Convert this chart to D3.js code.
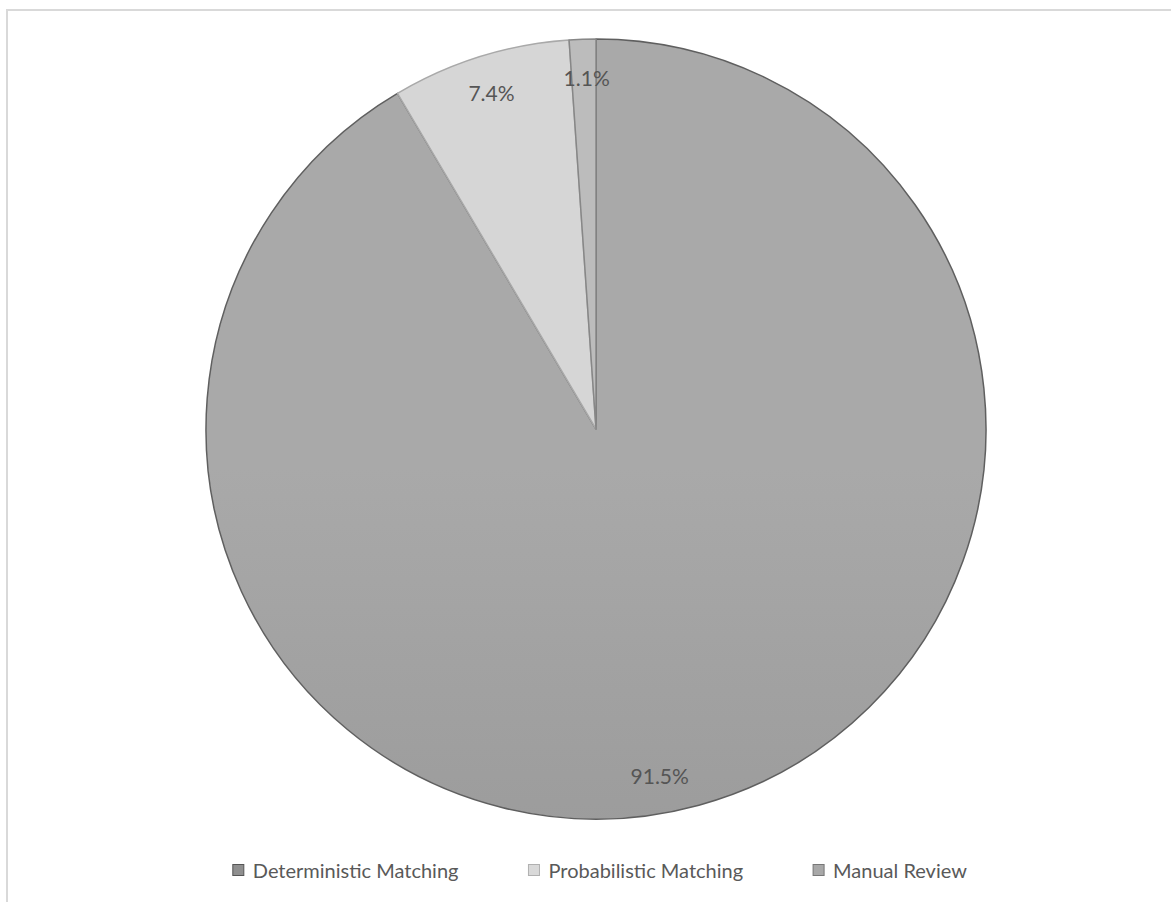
<!DOCTYPE html>
<html><head><meta charset="utf-8">
<script src="https://cdn.jsdelivr.net/npm/d3@7"></script>
<style>html,body{margin:0;padding:0;background:#fff;}</style>
</head><body>
<script>
const categories = ["Deterministic Matching", "Probabilistic Matching", "Manual Review"];
const values = [91.5, 7.4, 1.1];
const labels = ["91.5%", "7.4%", "1.1%"];

const W = 1171, H = 902;
const cx = 596, cy = 429, R = 390, labelR = 352;
const fills = ["url(#detGrad)", "#d6d6d6", "#bcbcbc"];
const strokes = ["#5f5f5f", "#a9a9a9", "#878787"];
const legendFills = ["#8f8f8f", "#d9d9d9", "#a8a8a8"];
const legendStrokes = ["#555", "#b0b0b0", "#777"];
const labelAngleShift = [0.085, 0, 0.008];
const font = "Lato, 'Open Sans', sans-serif";

const svg = d3.select("body").append("svg").attr("width", W).attr("height", H);
const defs = svg.append("defs");
const g1 = defs.append("linearGradient").attr("id", "detGrad")
  .attr("gradientUnits", "userSpaceOnUse").attr("x1", 0).attr("x2", 0)
  .attr("y1", cy - R).attr("y2", cy + R);
g1.append("stop").attr("offset", "0%").attr("stop-color", "#a9a9a9");
g1.append("stop").attr("offset", "100%").attr("stop-color", "#8d8d8d");

// chart frame
svg.append("rect").attr("x", 7).attr("y", 10).attr("width", W).attr("height", H)
  .attr("fill", "none").attr("stroke", "#d9d9d9").attr("stroke-width", 2);

const pie = d3.pie().sort(null).value(d => d)(values);
const arc = d3.arc().innerRadius(0).outerRadius(R);
const g = svg.append("g").attr("transform", `translate(${cx},${cy})`);
g.selectAll("path.slice").data(pie).enter().append("path")
  .attr("class", "slice")
  .attr("d", arc)
  .attr("fill", (d, i) => fills[i])
  .attr("stroke", (d, i) => strokes[i])
  .attr("stroke-width", 1.5)
  .attr("stroke-linejoin", "round");

g.selectAll("text.lbl").data(pie).enter().append("text")
  .attr("class", "lbl")
  .attr("x", (d, i) => labelR * Math.sin((d.startAngle + d.endAngle) / 2 + labelAngleShift[i]))
  .attr("y", (d, i) => -labelR * Math.cos((d.startAngle + d.endAngle) / 2 + labelAngleShift[i]))
  .attr("text-anchor", "middle").attr("dominant-baseline", "central")
  .attr("font-family", font).attr("font-size", 21).attr("fill", "#555555")
  .text((d, i) => labels[i]);

// legend
const legend = svg.append("g").attr("transform", "translate(0,870)");
const items = legend.selectAll("g.item").data(categories).enter().append("g").attr("class", "item");
items.append("rect").attr("width", 11).attr("height", 11).attr("y", -5.5)
  .attr("fill", (d, i) => legendFills[i]).attr("stroke", (d, i) => legendStrokes[i]).attr("stroke-width", 1);
items.append("text").attr("x", 20).attr("dominant-baseline", "central")
  .attr("font-family", font).attr("font-size", 20).attr("fill", "#595959")
  .text(d => d);
// lay out legend centered
const gap = 70;
let widths = [];
items.each(function () { widths.push(this.getBBox().width); });
const total = d3.sum(widths) + gap * (widths.length - 1);
let x0 = 600 - total / 2;
items.attr("transform", (d, i) => { const t = `translate(${x0},0)`; x0 += widths[i] + gap; return t; });
</script>
</body></html>
